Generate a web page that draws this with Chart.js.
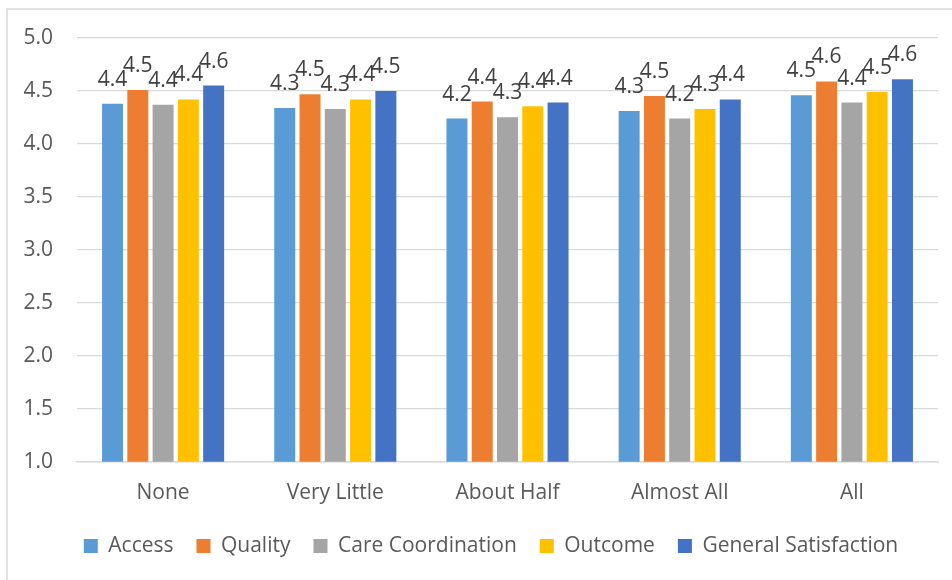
<!DOCTYPE html>
<html>
<head>
<meta charset="utf-8">
<script src="https://cdn.jsdelivr.net/npm/chart.js@4/dist/chart.umd.min.js"></script>
<style>
  html, body { margin: 0; padding: 0; background: #ffffff; }
  #wrap { width: 952px; height: 580px; position: relative; }
</style>
</head>
<body>
<div id="wrap"><canvas id="c" width="952" height="580"></canvas></div>
<script>
const categories = ["None", "Very Little", "About Half", "Almost All", "All"];
const seriesNames = ["Access", "Quality", "Care Coordination", "Outcome", "General Satisfaction"];
const access = [4.38, 4.34, 4.24, 4.31, 4.46];
const quality = [4.51, 4.47, 4.40, 4.452, 4.59];
const careCoordination = [4.37, 4.33, 4.252, 4.24, 4.39];
const outcome = [4.42, 4.42, 4.355, 4.33, 4.49];
const generalSatisfaction = [4.551, 4.50, 4.39, 4.42, 4.61];
const yTicks = [1.0, 1.5, 2.0, 2.5, 3.0, 3.5, 4.0, 4.5, 5.0];

const colors = ["#5B9BD5", "#ED7D31", "#A5A5A5", "#FFC000", "#4472C4"];
const seriesValues = [access, quality, careCoordination, outcome, generalSatisfaction];
const FONT = "'Open Sans', 'Noto Sans', sans-serif";

const frame = {
  id: 'frame',
  beforeDraw(chart) {
    const ctx = chart.ctx;
    ctx.save();
    ctx.fillStyle = '#ffffff';
    ctx.fillRect(0, 0, chart.width, chart.height);
    ctx.strokeStyle = '#d9d9d9';
    ctx.lineWidth = 1.5;
    ctx.beginPath();
    ctx.moveTo(7, chart.height + 5);
    ctx.lineTo(7, 9);
    ctx.lineTo(chart.width + 5, 9);
    ctx.stroke();
    ctx.restore();
  }
};

const legendShift = {
  id: 'legendShift',
  afterLayout(chart) {
    if (chart.legend) { chart.legend.left += 15; chart.legend.right += 15; }
  }
};

const valueLabels = {
  id: 'valueLabels',
  afterDatasetsDraw(chart) {
    const ctx = chart.ctx;
    ctx.save();
    ctx.font = "21px " + FONT;
    ctx.fillStyle = '#404040';
    ctx.textAlign = 'center';
    ctx.textBaseline = 'alphabetic';
    chart.data.datasets.forEach((ds, i) => {
      const meta = chart.getDatasetMeta(i);
      meta.data.forEach((el, j) => {
        ctx.fillText(Number(ds.data[j]).toFixed(1), el.x, el.y - 18);
      });
    });
    ctx.restore();
  }
};

new Chart(document.getElementById('c'), {
  type: 'bar',
  data: {
    labels: categories,
    datasets: seriesNames.map((name, i) => ({
      label: name,
      data: seriesValues[i],
      backgroundColor: colors[i],
      borderWidth: 0,
      categoryPercentage: 0.734,
      barPercentage: 0.83
    }))
  },
  options: {
    responsive: false,
    animation: false,
    devicePixelRatio: 1,
    layout: { padding: { top: 38, left: 14, right: 14, bottom: 13.5 } },
    plugins: {
      legend: {
        position: 'bottom',
        labels: {
          boxWidth: 14,
          boxHeight: 14,
          padding: 23,
          color: '#595959',
          font: { family: FONT, size: 21 }
        }
      },
      tooltip: { enabled: false }
    },
    scales: {
      x: {
        grid: { display: false, drawTicks: false },
        border: { display: true, color: '#d9d9d9', width: 1.5 },
        ticks: { color: '#595959', font: { family: FONT, size: 21 }, padding: 19 },
        afterFit(scale) { scale.height = 50.8; }
      },
      y: {
        min: 1, max: 5,
        afterBuildTicks(scale) { scale.ticks = yTicks.map(v => ({ value: v })); },
        grid: { color: '#d9d9d9', lineWidth: 1.3, drawTicks: false },
        border: { display: false },
        ticks: {
          color: '#595959',
          font: { family: FONT, size: 21 },
          padding: 24,
          callback: (v) => Number(v).toFixed(1)
        },
        afterFit(scale) { scale.width = 63; }
      }
    }
  },
  plugins: [frame, legendShift, valueLabels]
});
</script>
</body>
</html>
